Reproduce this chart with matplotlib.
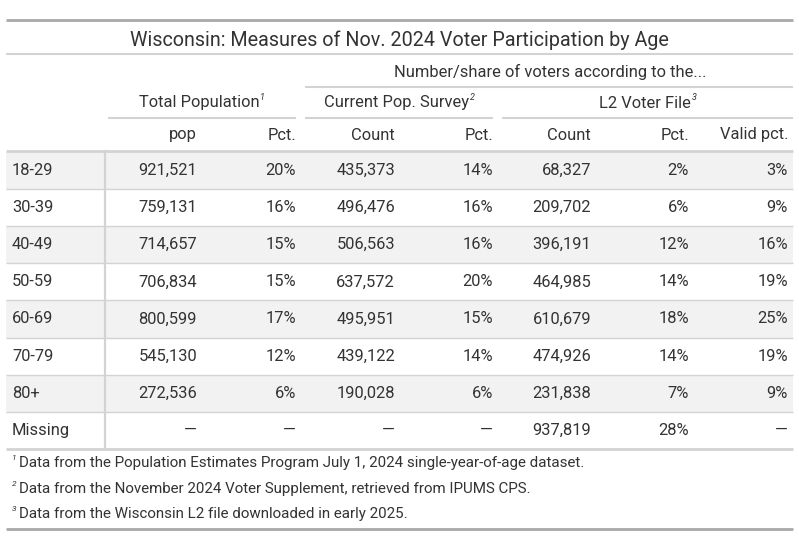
import matplotlib
matplotlib.use("Agg")
import matplotlib.pyplot as plt
from matplotlib.patches import Rectangle

plt.rcParams['font.family'] = ['Roboto', 'DejaVu Sans']

title = "Wisconsin: Measures of Nov. 2024 Voter Participation by Age"
top_spanner = "Number/share of voters according to the..."
spanners = ["Total Population", "Current Pop. Survey", "L2 Voter File"]
spanner_marks = ["1", "2", "3"]
col_labels = ["pop", "Pct.", "Count", "Pct.", "Count", "Pct.", "Valid pct."]

ages = ["18-29", "30-39", "40-49", "50-59", "60-69", "70-79", "80+", "Missing"]
pop = [921521, 759131, 714657, 706834, 800599, 545130, 272536, None]
pop_pct = [20, 16, 15, 15, 17, 12, 6, None]
cps_count = [435373, 496476, 506563, 637572, 495951, 439122, 190028, None]
cps_pct = [14, 16, 16, 20, 15, 14, 6, None]
l2_count = [68327, 209702, 396191, 464985, 610679, 474926, 231838, 937819]
l2_pct = [2, 6, 12, 14, 18, 14, 7, 28]
l2_valid = [3, 9, 16, 19, 25, 19, 9, None]

footnotes = [
    "Data from the Population Estimates Program July 1, 2024 single-year-of-age dataset.",
    "Data from the November 2024 Voter Supplement, retrieved from IPUMS CPS.",
    "Data from the Wisconsin L2 file downloaded in early 2025.",
]

W, H = 799, 548
fig = plt.figure(figsize=(W / 100, H / 100), dpi=100)
ax = fig.add_axes([0, 0, 1, 1])
ax.set_xlim(0, W)
ax.set_ylim(H, 0)
ax.axis('off')

TXT = '#333333'
LINE = '#d3d3d3'
THICK = '#a8a8a8'
FS = 11.85
L, R = 6, 793

def hline(y, x0=L, x1=R, c=LINE, lw=1.0):
    ax.plot([x0, x1], [y, y], color=c, lw=lw, solid_capstyle='butt')

# borders
hline(20, c=THICK, lw=2)
ax.text((L + R) / 2, 40, title, ha='center', va='center', fontsize=14.2, color=TXT)
hline(54, lw=1.5)

# top spanner
ax.text(550, 72, top_spanner, ha='center', va='center', fontsize=FS, color=TXT)
hline(87, 305, R, lw=1.5)

# spanners
sp_ranges = [(108, 296), (305, 493), (502, R)]
fig.canvas.draw()
for (x0, x1), s, m in zip(sp_ranges, spanners, spanner_marks):
    cx = (x0 + x1) / 2
    t = ax.text(cx - 3, 103, s, ha='center', va='center', fontsize=FS, color=TXT)
    bb = t.get_window_extent(renderer=fig.canvas.get_renderer())
    xr = bb.x1
    ax.text(xr + 1, 97, m, ha='left', va='center', fontsize=6.5, color=TXT, style='italic')
    hline(118, x0, x1, lw=1.5)

# column labels
col_right = [197, 296, 395, 493, 591, 689, 788]
for x, lab in zip(col_right, col_labels):
    ax.text(x, 135, lab, ha='right', va='center', fontsize=FS, color=TXT)
hline(151, lw=2)

# body
row_h = 37.1
y0 = 152
def fmt_n(v):
    return "—" if v is None else f"{v:,}"
def fmt_p(v):
    return "—" if v is None else f"{v}%"

cols = [(pop, fmt_n), (pop_pct, fmt_p), (cps_count, fmt_n), (cps_pct, fmt_p),
        (l2_count, fmt_n), (l2_pct, fmt_p), (l2_valid, fmt_p)]
for i, age in enumerate(ages):
    top = y0 + i * row_h
    cy = top + row_h / 2
    if i % 2 == 0:
        ax.add_patch(Rectangle((L, top), R - L, row_h, facecolor='#f2f2f2', edgecolor='none', zorder=0))
    ax.text(12, cy, age, ha='left', va='center', fontsize=FS, color=TXT)
    for (vals, f), x in zip(cols, col_right):
        ax.text(x, cy, f(vals[i]), ha='right', va='center', fontsize=FS, color=TXT)
    if i < len(ages) - 1:
        hline(top + row_h, lw=1)
body_bottom = y0 + len(ages) * row_h
ax.plot([104.5, 104.5], [151, body_bottom], color=LINE, lw=1.6)
hline(body_bottom, lw=2)

# footnotes
for j, fn in enumerate(footnotes):
    fy = 463 + j * 25.5
    ax.text(12, fy - 5, str(j + 1), ha='left', va='center', fontsize=6.0, color=TXT, style='italic')
    ax.text(19, fy, fn, ha='left', va='center', fontsize=10.9, color=TXT)

hline(529, c=THICK, lw=2)

fig.savefig('out.png', dpi=100, facecolor='white')
